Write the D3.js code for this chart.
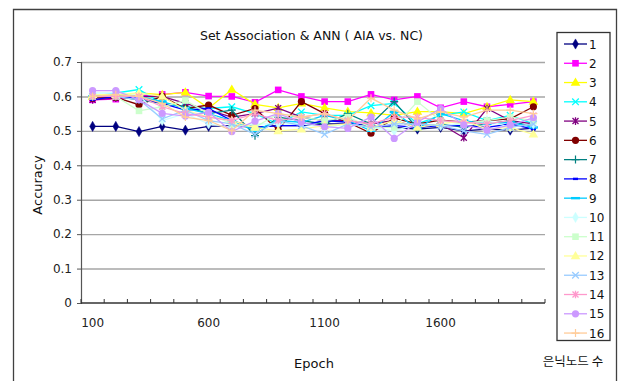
<!DOCTYPE html>
<html><head><meta charset="utf-8">
<script src="https://cdn.jsdelivr.net/npm/d3@7"></script>
<style>
html,body{margin:0;padding:0;background:#fff;}
svg{display:block;font-family:"DejaVu Sans",Verdana,sans-serif;}
</style></head>
<body><svg id="c" width="618" height="381"></svg>
<script>
// ---- data ----
const epochs = [100,200,300,400,500,600,700,800,900,1000,1100,1200,1300,1400,1500,1600,1700,1800,1900,2000];
const xTickLabels = [100,600,1100,1600];
const yTicks = [0,0.1,0.2,0.3,0.4,0.5,0.6,0.7];
const seriesNames = ["1","2","3","4","5","6","7","8","9","10","11","12","13","14","15","16"];
const s1  = [0.513,0.513,0.498,0.513,0.502,0.513,0.515,0.510,0.515,0.515,0.520,0.520,0.515,0.510,0.505,0.510,0.500,0.505,0.502,0.508];
const s2  = [0.590,0.592,0.602,0.606,0.612,0.601,0.600,0.583,0.619,0.600,0.585,0.585,0.606,0.590,0.600,0.567,0.585,0.570,0.577,0.585];
const s3  = [0.600,0.600,0.610,0.605,0.612,0.566,0.620,0.577,0.567,0.580,0.567,0.556,0.552,0.545,0.556,0.556,0.550,0.570,0.590,0.585];
const s4  = [0.600,0.610,0.620,0.580,0.570,0.565,0.570,0.550,0.520,0.555,0.545,0.545,0.573,0.580,0.520,0.545,0.555,0.530,0.545,0.520];
const s5  = [0.590,0.595,0.600,0.600,0.580,0.560,0.540,0.550,0.566,0.540,0.530,0.530,0.520,0.530,0.510,0.520,0.480,0.565,0.530,0.520];
const s6  = [0.595,0.597,0.576,0.600,0.565,0.575,0.545,0.565,0.502,0.585,0.550,0.525,0.493,0.537,0.520,0.531,0.525,0.530,0.535,0.570];
const s7  = [0.600,0.600,0.590,0.580,0.570,0.550,0.560,0.486,0.540,0.530,0.520,0.550,0.520,0.585,0.508,0.520,0.510,0.520,0.530,0.510];
const s8  = [0.590,0.600,0.595,0.580,0.560,0.565,0.530,0.510,0.515,0.515,0.530,0.525,0.510,0.515,0.510,0.515,0.515,0.510,0.520,0.505];
const s9  = [0.600,0.605,0.600,0.585,0.565,0.550,0.530,0.500,0.530,0.525,0.545,0.530,0.500,0.555,0.505,0.550,0.530,0.520,0.525,0.510];
const s10 = [0.610,0.610,0.605,0.530,0.550,0.520,0.510,0.520,0.520,0.520,0.510,0.520,0.510,0.500,0.520,0.515,0.520,0.530,0.510,0.520];
const s11 = [0.600,0.600,0.558,0.570,0.588,0.550,0.520,0.510,0.550,0.540,0.530,0.540,0.510,0.510,0.585,0.530,0.520,0.530,0.540,0.530];
const s12 = [0.605,0.605,0.610,0.600,0.560,0.540,0.530,0.510,0.500,0.505,0.515,0.520,0.510,0.530,0.510,0.520,0.530,0.505,0.510,0.490];
const s13 = [0.600,0.600,0.590,0.535,0.560,0.530,0.520,0.490,0.530,0.515,0.490,0.520,0.510,0.520,0.520,0.515,0.500,0.490,0.510,0.520];
const s14 = [0.600,0.600,0.600,0.570,0.550,0.540,0.530,0.550,0.530,0.540,0.550,0.530,0.520,0.540,0.540,0.530,0.525,0.520,0.530,0.545];
const s15 = [0.617,0.617,0.590,0.551,0.543,0.554,0.498,0.528,0.550,0.525,0.512,0.507,0.540,0.478,0.525,0.565,0.517,0.502,0.517,0.538];
const s16 = [0.600,0.605,0.600,0.580,0.540,0.530,0.500,0.560,0.550,0.540,0.550,0.530,0.595,0.560,0.535,0.555,0.540,0.560,0.560,0.550];
const seriesValues = [s1,s2,s3,s4,s5,s6,s7,s8,s9,s10,s11,s12,s13,s14,s15,s16];

// ---- style ----
const colors = ["#000080","#FF00FF","#FFFF00","#00FFFF","#800080","#800000","#008080","#0000FF",
                "#00CCFF","#CCFFFF","#CCFFCC","#FFFF99","#99CCFF","#FF99CC","#CC99FF","#FFCC99"];
const markers = ["diamond","square","triangle","x","star","circle","plus","dash",
                 "longdash","diamond","square","triangle","x","star","circle","plus"];

const svg = d3.select("#c");
const L = 81, R = 545, T = 62, B = 303;
const x = d3.scaleBand().domain(epochs).range([L, R]).padding(0);
const bw = x.bandwidth();
const cx = d => x(d) + bw / 2;
const y = d3.scaleLinear().domain([0, 0.7]).range([B, T]);

// outer chart border
svg.append("path").attr("d", `M13.5,381 V9.5 H616.5 V381`).attr("fill","none")
  .attr("stroke","#404040").attr("stroke-width",1.3);

// gridlines
const grid = svg.append("g").attr("transform",`translate(${L},0)`)
  .call(d3.axisLeft(y).tickValues(yTicks.filter(v=>v>0)).tickSize(-(R-L)).tickFormat(""));
grid.select(".domain").remove();
grid.selectAll("line").attr("stroke","#a6a6a6").attr("stroke-width",1.4);

// y axis
const ya = svg.append("g").attr("transform",`translate(${L},0)`)
  .call(d3.axisLeft(y).tickValues(yTicks).tickSize(4).tickPadding(5)
    .tickFormat(d => d === 0 ? "0" : d3.format(".1f")(d)));
ya.select(".domain").attr("stroke","#555").attr("stroke-width",1.2);
ya.selectAll("line").attr("stroke","#555");
ya.selectAll("text").attr("font-size",12).attr("fill","#222")
  .attr("font-family","DejaVu Sans, sans-serif");

// x axis
const xa = svg.append("g").attr("transform",`translate(0,${B})`)
  .call(d3.axisBottom(x).tickValues(xTickLabels).tickSize(0).tickPadding(15));
xa.select(".domain").remove();
xa.selectAll("text").attr("font-size",12).attr("fill","#222")
  .attr("font-family","DejaVu Sans, sans-serif");
svg.append("line").attr("x1",L).attr("x2",R).attr("y1",B).attr("y2",B)
  .attr("stroke","#333").attr("stroke-width",1.3);
const bounds = epochs.map(e => x(e)).concat([R]);
svg.append("g").selectAll("line").data(bounds).join("line")
  .attr("x1",d=>d).attr("x2",d=>d).attr("y1",B).attr("y2",B-4)
  .attr("stroke","#333").attr("stroke-width",1);

// marker drawing
function drawMarker(g, type, color, px, py, s) {
  const k = s || 1;
  switch (type) {
    case "diamond":
      g.append("path").attr("d", d3.symbol(d3.symbolDiamond, 30*k*k)())
        .attr("transform",`translate(${px},${py})`).attr("fill",color).attr("stroke",color).attr("stroke-width",0.5); break;
    case "square":
      g.append("rect").attr("x",px-3.3*k).attr("y",py-3.3*k).attr("width",6.6*k).attr("height",6.6*k).attr("fill",color); break;
    case "triangle":
      g.append("path").attr("d", d3.symbol(d3.symbolTriangle, 40*k*k)())
        .attr("transform",`translate(${px},${py+0.5})`).attr("fill",color); break;
    case "circle":
      g.append("circle").attr("cx",px).attr("cy",py).attr("r",3.6*k).attr("fill",color); break;
    case "x":
      g.append("path").attr("d",`M${px-3.3},${py-3.3}L${px+3.3},${py+3.3}M${px-3.3},${py+3.3}L${px+3.3},${py-3.3}`)
        .attr("stroke",color).attr("stroke-width",1.3).attr("fill","none"); break;
    case "star":
      g.append("path").attr("d",`M${px-3},${py-3}L${px+3},${py+3}M${px-3},${py+3}L${px+3},${py-3}M${px},${py-3.8}L${px},${py+3.8}`)
        .attr("stroke",color).attr("stroke-width",1.3).attr("fill","none"); break;
    case "plus":
      g.append("path").attr("d",`M${px},${py-4}L${px},${py+4}M${px-4},${py}L${px+4},${py}`)
        .attr("stroke",color).attr("stroke-width",1.2).attr("fill","none"); break;
    case "dash":
      g.append("path").attr("d",`M${px-2.5},${py}L${px+2.5},${py}`)
        .attr("stroke",color).attr("stroke-width",2.4).attr("fill","none"); break;
    case "longdash":
      g.append("path").attr("d",`M${px-4.5},${py}L${px+4.5},${py}`)
        .attr("stroke",color).attr("stroke-width",2.4).attr("fill","none"); break;
  }
}

// series
const line = d3.line().x((d,i) => cx(epochs[i])).y(d => y(d));
const plot = svg.append("g");
seriesValues.forEach((vals, si) => {
  const g = plot.append("g");
  g.append("path").datum(vals).attr("d", line).attr("fill","none")
    .attr("stroke", colors[si]).attr("stroke-width",1.3);
  vals.forEach((v,i) => drawMarker(g, markers[si], colors[si], cx(epochs[i]), y(v)));
});

// title & axis titles
svg.append("text").attr("x",311.5).attr("y",40).attr("text-anchor","middle")
  .attr("font-size",12.5).attr("fill","#111").text("Set Association & ANN ( AIA vs. NC)");
svg.append("text").attr("transform","translate(42,185) rotate(-90)").attr("text-anchor","middle")
  .attr("font-size",13).attr("fill","#111").text("Accuracy");
svg.append("text").attr("x",314).attr("y",368).attr("text-anchor","middle")
  .attr("font-size",13).attr("fill","#111").text("Epoch");
svg.append("text").attr("x",573).attr("y",366).attr("text-anchor","middle")
  .attr("font-size",12.5).attr("fill","#111")
  .attr("font-family","Noto Sans CJK KR, sans-serif").text("은닉노드 수");

// legend
const lg = svg.append("g");
lg.append("rect").attr("x",557).attr("y",32.5).attr("width",53).attr("height",308)
  .attr("fill","#fff").attr("stroke","#333").attr("stroke-width",1.3);
seriesNames.forEach((nm, i) => {
  const ly = 44 + i * 19.27;
  const g = lg.append("g");
  g.append("line").attr("x1",564).attr("x2",587).attr("y1",ly).attr("y2",ly)
    .attr("stroke",colors[i]).attr("stroke-width",1.3);
  drawMarker(g, markers[i], colors[i], 575.5, ly);
  g.append("text").attr("x",589).attr("y",ly+4.5).attr("font-size",12).attr("fill","#111").text(nm);
});
</script>
</body></html>
